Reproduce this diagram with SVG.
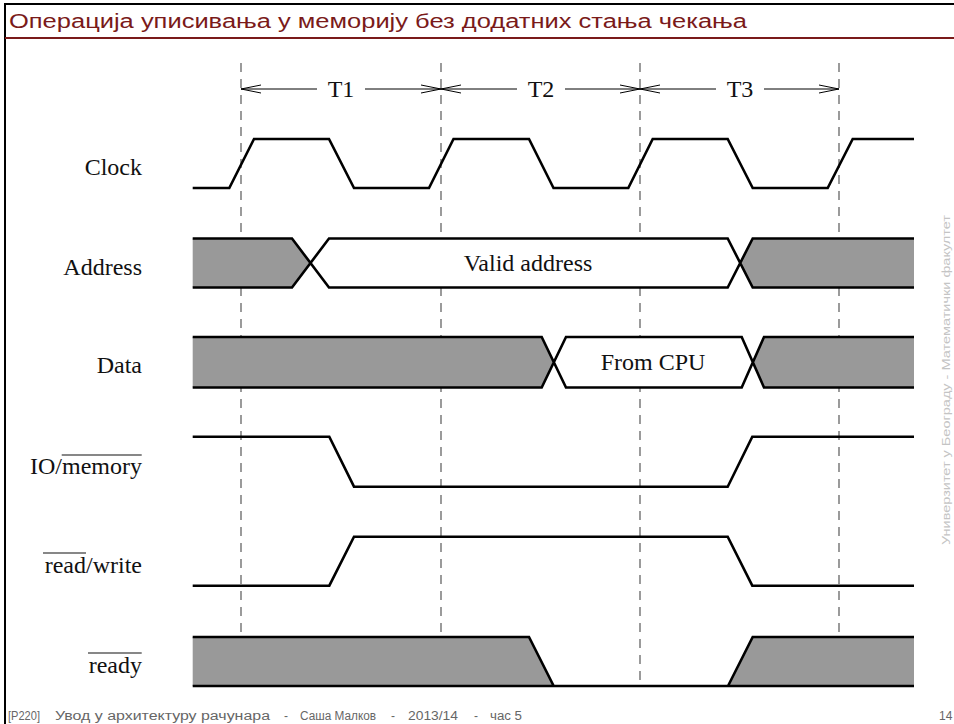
<svg xmlns="http://www.w3.org/2000/svg" width="954" height="724" viewBox="0 0 954 724">
<style>
.lbl{font-family:"Liberation Serif","Times New Roman",serif;font-size:24px;fill:#111}
.sig{fill:none;stroke:#000;stroke-width:2.6;stroke-linejoin:miter}
.grey{fill:#999;stroke:none}
.white{fill:#fff;stroke:none}
.dash{stroke:#666;stroke-width:1.3;stroke-dasharray:9 7;fill:none}
.arr{stroke:#000;stroke-width:1;fill:none}
.foot{font-family:"Liberation Sans",Arial,sans-serif;font-size:12px;fill:#666}
</style>
<rect x="0" y="0" width="954" height="724" fill="#fff"/>
<g id="frame">
<line x1="5" y1="4" x2="5" y2="724" stroke="#000" stroke-width="2"/>
<line x1="4" y1="4" x2="954" y2="4" stroke="#000" stroke-width="2"/>
<line x1="5" y1="38" x2="954" y2="38" stroke="#7a1a1a" stroke-width="2"/>
<text x="9" y="28" font-family="Liberation Sans,Arial,sans-serif" font-size="20" fill="#7a1a1a" textLength="738" lengthAdjust="spacingAndGlyphs">Операција уписивања у меморију без додатних стања чекања</text>
</g>
<g id="gridlines">
<line class="dash" x1="241" y1="63" x2="241" y2="686"/>
<line class="dash" x1="441" y1="63" x2="441" y2="686"/>
<line class="dash" x1="640" y1="63" x2="640" y2="686"/>
<line class="dash" x1="839" y1="63" x2="839" y2="686"/>
</g>
<g id="periods">
<path class="arr" d="M241,89 H317 M365,89 H441 M261,85 L241,89 L261,93 M421,85 L441,89 L421,93"/>
<path class="arr" d="M441,89 H517 M565,89 H640 M461,85 L441,89 L461,93 M620,85 L640,89 L620,93"/>
<path class="arr" d="M640,89 H716 M764,89 H839 M660,85 L640,89 L660,93 M819,85 L839,89 L819,93"/>
<text class="lbl" x="341" y="97" text-anchor="middle">T1</text>
<text class="lbl" x="541" y="97" text-anchor="middle">T2</text>
<text class="lbl" x="740" y="97" text-anchor="middle">T3</text>
</g>
<g id="clock">
<text class="lbl" x="142" y="175" text-anchor="end">Clock</text>
<path class="sig" d="M192.7,188 L229.3,188 L254,139 L329,139 L354,188 L429,188 L453.5,139 L529,139 L553.5,188 L628.3,188 L652.7,139 L727.7,139 L752.7,188 L827.7,188 L852.7,139 L914,139"/>
</g>
<g id="address">
<text class="lbl" x="142" y="275" text-anchor="end">Address</text>
<polygon class="grey" points="192.7,238.5 292,238.5 310.5,263 292,287.5 192.7,287.5"/>
<polygon class="white" points="310.5,263 329,238.5 727.7,238.5 740.2,263 727.7,287.5 329,287.5"/>
<polygon class="grey" points="740.2,263 752.7,238.5 914,238.5 914,287.5 752.7,287.5"/>
<path class="sig" d="M192.7,238.5 H292 L329,287.5 H727.7 L752.7,238.5 H914 M192.7,287.5 H292 L329,238.5 H727.7 L752.7,287.5 H914"/>
<text class="lbl" x="528" y="271" text-anchor="middle">Valid address</text>
</g>
<g id="data">
<text class="lbl" x="142" y="373" text-anchor="end">Data</text>
<polygon class="grey" points="192.7,337 541.7,337 553.8,362.2 541.7,387.5 192.7,387.5"/>
<polygon class="white" points="553.8,362.2 566,337 741.7,337 752.8,362.2 741.7,387.5 566,387.5"/>
<polygon class="grey" points="752.8,362.2 764,337 914,337 914,387.5 764,387.5"/>
<path class="sig" d="M192.7,337 H541.7 L566,387.5 H741.7 L764,337 H914 M192.7,387.5 H541.7 L566,337 H741.7 L764,387.5 H914"/>
<text class="lbl" x="653" y="370" text-anchor="middle">From CPU</text>
</g>
<g id="iomemory">
<text class="lbl" x="142" y="474" text-anchor="end">IO/memory</text>
<line x1="61.7" y1="455" x2="141.7" y2="455" stroke="#111" stroke-width="1.2"/>
<path class="sig" d="M192.7,436.7 H329.3 L354,486.7 H727.7 L752.3,436.7 H914"/>
</g>
<g id="readwrite">
<text class="lbl" x="142" y="573" text-anchor="end">read/write</text>
<line x1="43" y1="553" x2="86" y2="553" stroke="#111" stroke-width="1.2"/>
<path class="sig" d="M192.7,585.7 H329.3 L354,536.7 H727.7 L752.3,585.7 H914"/>
</g>
<g id="ready">
<text class="lbl" x="142" y="672.5" text-anchor="end">ready</text>
<line x1="88" y1="653" x2="141.7" y2="653" stroke="#111" stroke-width="1.2"/>
<polygon class="grey" points="192.7,637 529,637 553.7,686 192.7,686"/>
<polygon class="grey" points="728,686 752.7,637 914,637 914,686"/>
<path class="sig" d="M192.7,637 H529 L553.7,686 H728 L752.7,637 H914 M192.7,686 H914"/>
</g>
<g id="footer">
<text class="foot" x="8" y="720" textLength="32" lengthAdjust="spacingAndGlyphs">[P220]</text>
<text class="foot" x="55" y="720" textLength="215" lengthAdjust="spacingAndGlyphs">Увод у архитектуру рачунара</text>
<text class="foot" x="284" y="720">-</text>
<text class="foot" x="300" y="720" textLength="76" lengthAdjust="spacingAndGlyphs">Саша Малков</text>
<text class="foot" x="391" y="720">-</text>
<text class="foot" x="408" y="720" textLength="50" lengthAdjust="spacingAndGlyphs">2013/14</text>
<text class="foot" x="474" y="720">-</text>
<text class="foot" x="490" y="720" textLength="32" lengthAdjust="spacingAndGlyphs">час 5</text>
<text class="foot" x="939" y="720">14</text>
<text font-family="Liberation Sans,Arial,sans-serif" font-size="10" fill="#c4c4c4" transform="translate(950,545) rotate(-90)" textLength="330" lengthAdjust="spacingAndGlyphs">Универзитет у Београду - Математички факултет</text>
</g>
</svg>
